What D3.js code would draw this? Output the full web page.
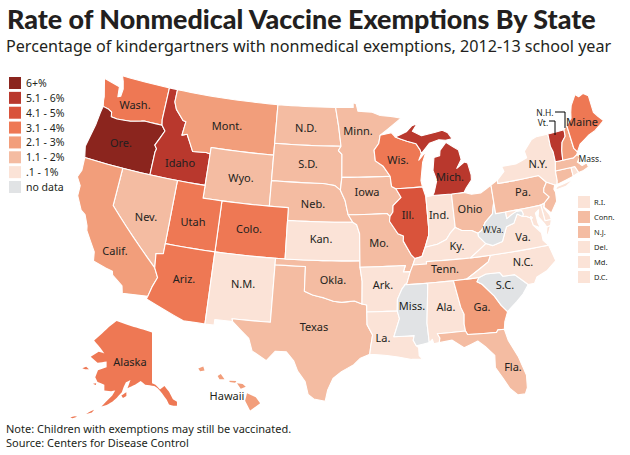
<!DOCTYPE html>
<html>
<head>
<meta charset="utf-8">
<script src="https://cdn.jsdelivr.net/npm/d3@7"></script>
<style>
html, body { margin: 0; padding: 0; background: #fff; }
svg { display: block; }
text { font-family: "Noto Sans", sans-serif; fill: #231f20; }
</style>
</head>
<body>
<svg id="chart" width="630" height="455"></svg>
<script>
'use strict';

const TITLE = "Rate of Nonmedical Vaccine Exemptions By State";
const SUBTITLE = "Percentage of kindergartners with nonmedical exemptions, 2012-13 school year";
const NOTES = ["Note: Children with exemptions may still be vaccinated.", "Source: Centers for Disease Control"];

const classLabels = ["6+%", "5.1 - 6%", "4.1 - 5%", "3.1 - 4%", "2.1 - 3%", "1.1 - 2%", ".1 - 1%", "no data"];
const classColors = ["#8b251e", "#b9382d", "#d9533b", "#ee7854", "#f29e7b", "#f4bca2", "#fbe3d7", "#e1e3e5"];
const classBreaks = [1, 2, 3, 4, 5, 6];

// state outlines, [lon, lat]
const WA = [[[-124.7,48.4],[-123.1,48.15],[-122.75,48.1],[-122.6,47.3],[-122.3,47.4],[-122.25,48.0],[-122.5,48.6],[-122.76,49],[-120,49],[-117.03,49],[-117.04,46.42],[-116.92,45.99],[-118.98,46],[-119.3,45.93],[-120.5,45.7],[-121.2,45.65],[-122,45.6],[-122.7,45.65],[-122.8,46],[-123.2,46.15],[-123.9,46.25],[-124.05,46.7],[-124.1,47],[-124.4,47.7]]];
const OR = [[[-123.9,46.25],[-123.2,46.15],[-122.8,46],[-122.7,45.65],[-122,45.6],[-121.2,45.65],[-120.5,45.7],[-119.3,45.93],[-118.98,46],[-116.92,45.99],[-116.46,45.6],[-116.85,44.95],[-117.22,44.35],[-116.95,44.1],[-117.03,43.83],[-117.03,42],[-120,42],[-124.2,42],[-124.5,42.85],[-124.1,44.7],[-124.0,45.7]]];
const ID = [[[-117.03,49],[-116.05,49],[-116.05,48],[-115.7,47.45],[-114.7,46.7],[-114.35,46.65],[-114.5,45.55],[-113.95,45.7],[-113.45,45.05],[-113,44.45],[-111.5,44.55],[-111.05,44.48],[-111.05,42],[-114.04,42],[-117.03,42],[-117.03,43.83],[-116.95,44.1],[-117.22,44.35],[-116.85,44.95],[-116.46,45.6],[-116.92,45.99],[-117.04,46.42]]];
const MT = [[[-116.05,49],[-112,49],[-108,49],[-104.05,49],[-104.05,45.94],[-104.05,45],[-111.05,45],[-111.05,44.48],[-111.5,44.55],[-113,44.45],[-113.45,45.05],[-113.95,45.7],[-114.5,45.55],[-114.35,46.65],[-114.7,46.7],[-115.7,47.45],[-116.05,48]]];
const WY = [[[-111.05,45],[-104.05,45],[-104.05,43],[-104.05,41],[-111.05,41],[-111.05,42]]];
const ND = [[[-104.05,49],[-100,49],[-97.23,49],[-96.85,47.5],[-96.56,45.94],[-104.05,45.94]]];
const SD = [[[-104.05,45.94],[-96.56,45.94],[-96.85,45.6],[-96.45,45.3],[-96.45,43.5],[-96.6,42.5],[-97.2,42.85],[-98.5,43],[-104.05,43],[-104.05,45]]];
const NE = [[[-104.05,43],[-98.5,43],[-97.2,42.85],[-96.6,42.5],[-96.1,41.7],[-95.9,41],[-95.77,40.58],[-95.3,40],[-102.05,40],[-102.05,41],[-104.05,41]]];
const CO = [[[-109.05,41],[-104.05,41],[-102.05,41],[-102.05,40],[-102.05,37],[-103,37],[-109.05,37]]];
const UT = [[[-114.04,42],[-111.05,42],[-111.05,41],[-109.05,41],[-109.05,37],[-114.04,37],[-114.04,36.2]]];
const NV = [[[-120,42],[-117.03,42],[-114.04,42],[-114.04,37],[-114.04,36.2],[-114.75,36.1],[-114.6,35],[-120,39]]];
const CA = [[[-124.2,42],[-120,42],[-120,39],[-114.6,35],[-114.15,34.3],[-114.5,33.5],[-114.72,32.72],[-117.12,32.53],[-117.3,33.1],[-118.4,33.75],[-118.5,34.03],[-119.2,34.15],[-120.5,34.45],[-120.65,35.15],[-121.9,36.6],[-122,36.95],[-122.5,37.75],[-123,38],[-123.75,39],[-123.8,39.8],[-124.35,40.4],[-124.1,41]]];
const AZ = [[[-114.04,37],[-109.05,37],[-109.05,31.33],[-111.07,31.33],[-114.8,32.5],[-114.72,32.72],[-114.5,33.5],[-114.15,34.3],[-114.6,35],[-114.75,36.1],[-114.04,36.2]]];
const NM = [[[-109.05,37],[-103,37],[-103,36.5],[-103.04,32],[-106.62,32],[-106.53,31.78],[-108.2,31.78],[-108.2,31.33],[-109.05,31.33]]];
const TX = [[[-103,36.5],[-100,36.5],[-100,34.56],[-99.2,34.3],[-98.1,34.1],[-97.2,33.85],[-96.4,33.77],[-95.2,33.88],[-94.48,33.64],[-94.04,33.55],[-94.04,33],[-94.04,32],[-93.55,31.2],[-93.75,30.3],[-93.85,29.7],[-94.7,29.4],[-95.3,28.9],[-96.4,28.35],[-97.15,27.8],[-97.6,26.9],[-97.8,26],[-98.8,26.15],[-99.3,26.5],[-99.6,27.5],[-100.3,28.3],[-100.7,29.1],[-101.4,29.77],[-102.4,29.77],[-103.15,28.98],[-104.5,29.65],[-104.9,30.6],[-106.53,31.78],[-106.62,32],[-103.04,32]]];
const OK = [[[-103,37],[-102.05,37],[-94.62,37],[-94.62,36.5],[-94.43,35.4],[-94.48,33.64],[-95.2,33.88],[-96.4,33.77],[-97.2,33.85],[-98.1,34.1],[-99.2,34.3],[-100,34.56],[-100,36.5],[-103,36.5]]];
const KS = [[[-102.05,40],[-95.3,40],[-94.9,39.8],[-94.61,39.1],[-94.62,37],[-102.05,37]]];
const MN = [[[-97.23,49],[-95.15,49],[-95.15,49.38],[-94.8,49.3],[-94.6,48.7],[-93,48.6],[-92,48.3],[-90.8,48.2],[-89.6,48],[-92.1,46.75],[-92.3,46.1],[-92.85,45.6],[-92.75,44.75],[-91.9,44.3],[-91.2,43.5],[-96.45,43.5],[-96.45,45.3],[-96.85,45.6],[-96.56,45.94],[-96.85,47.5]]];
const IA = [[[-96.45,43.5],[-91.2,43.5],[-91.1,42.7],[-90.65,42.5],[-90.15,41.8],[-91.05,41.2],[-91.1,40.7],[-91.42,40.38],[-91.73,40.61],[-95.77,40.58],[-95.9,41],[-96.1,41.7],[-96.6,42.5]]];
const MO = [[[-95.77,40.58],[-91.73,40.61],[-91.42,40.38],[-91.5,40],[-90.7,39],[-90.15,38.8],[-90.2,38.4],[-89.5,37.3],[-89.15,36.98],[-89.4,36.5],[-89.7,36],[-90.38,36],[-90.15,36.5],[-94.62,36.5],[-94.62,37],[-94.61,39.1],[-94.9,39.8],[-95.3,40]]];
const AR = [[[-94.62,36.5],[-90.15,36.5],[-90.38,36],[-89.7,36],[-90.1,35.1],[-90.3,35],[-90.6,34.7],[-91.1,33.9],[-91.17,33],[-94.04,33],[-94.04,33.55],[-94.48,33.64],[-94.43,35.4]]];
const LA = [[[-94.04,33],[-91.17,33],[-91,32.4],[-91.6,31],[-89.73,31],[-89.85,30.65],[-89.6,30.2],[-89.4,30.05],[-89.4,29.4],[-89.1,29.1],[-90.1,29.15],[-91.3,29.4],[-92.3,29.55],[-93.85,29.7],[-93.75,30.3],[-93.55,31.2],[-94.04,32]]];
const WI = [[[-92.1,46.75],[-90.8,46.9],[-90.4,46.55],[-89.1,46.15],[-88.1,45.9],[-87.7,45.4],[-87.6,45.1],[-87.95,44.6],[-87.05,45.25],[-87.55,44.4],[-87.9,43],[-87.8,42.5],[-90.65,42.5],[-91.1,42.7],[-91.2,43.5],[-91.9,44.3],[-92.75,44.75],[-92.85,45.6],[-92.3,46.1]]];
const IL = [[[-90.65,42.5],[-87.8,42.5],[-87.53,41.7],[-87.53,39.35],[-87.6,38.7],[-88.05,37.8],[-88.45,37.1],[-89.15,36.98],[-89.5,37.3],[-90.2,38.4],[-90.15,38.8],[-90.7,39],[-91.5,40],[-91.42,40.38],[-91.1,40.7],[-91.05,41.2],[-90.15,41.8]]];
const IN = [[[-87.53,41.7],[-86.8,41.76],[-84.8,41.72],[-84.82,39.1],[-85.4,38.7],[-85.85,38.25],[-86.8,37.95],[-88.05,37.8],[-87.6,38.7],[-87.53,39.35]]];
const OH = [[[-84.8,41.72],[-83.45,41.72],[-82.7,41.5],[-81.7,41.5],[-80.52,41.97],[-80.52,40.64],[-80.85,39.75],[-81.7,39.2],[-82.2,38.6],[-82.6,38.42],[-83.2,38.7],[-84.2,38.8],[-84.82,39.1]]];
const KY = [[[-89.4,36.5],[-88.05,36.5],[-88.05,36.68],[-83.68,36.6],[-81.97,37.54],[-82.6,38.17],[-82.6,38.42],[-83.2,38.7],[-84.2,38.8],[-84.82,39.1],[-85.4,38.7],[-85.85,38.25],[-86.8,37.95],[-88.05,37.8],[-88.45,37.1],[-89.15,36.98]]];
const TN = [[[-89.7,36],[-89.4,36.5],[-88.05,36.5],[-88.05,36.68],[-83.68,36.6],[-81.68,36.59],[-82,36.1],[-84.32,35],[-85.6,35],[-88.2,35],[-90.3,35],[-90.1,35.1]]];
const MS = [[[-90.3,35],[-88.2,35],[-88.1,34.9],[-88.47,31.9],[-88.4,30.37],[-89.6,30.2],[-89.85,30.65],[-89.73,31],[-91.6,31],[-91,32.4],[-91.17,33],[-91.1,33.9],[-90.6,34.7]]];
const AL = [[[-88.2,35],[-85.6,35],[-85.18,32.87],[-84.95,32.3],[-85.05,31.55],[-85,31],[-87.6,31],[-87.4,30.65],[-87.5,30.3],[-88,30.25],[-88.1,30.6],[-88.4,30.37],[-88.47,31.9],[-88.1,34.9]]];
const GA = [[[-85.6,35],[-84.32,35],[-83.1,35],[-83.35,34.7],[-82.9,34.45],[-81.9,33.4],[-81.4,32.6],[-80.9,32.05],[-81.3,31.3],[-81.45,30.72],[-82.05,30.75],[-82.2,30.57],[-84.85,30.7],[-85,31],[-85.05,31.55],[-84.95,32.3],[-85.18,32.87]]];
const FL = [[[-87.6,31],[-85,31],[-84.85,30.7],[-82.2,30.57],[-82.05,30.75],[-81.45,30.72],[-81.25,29.8],[-80.6,28.45],[-80.15,26.9],[-80.25,25.9],[-80.5,25.45],[-81.15,25.45],[-81.75,26.05],[-82.2,26.9],[-82.75,27.85],[-82.65,28.8],[-83.4,29.6],[-84,30.1],[-85.3,29.7],[-86.3,30.4],[-87.5,30.3],[-87.4,30.65]]];
const SC = [[[-83.1,35],[-82.4,35.2],[-81.05,35.15],[-80.8,34.82],[-79.67,34.8],[-78.55,33.86],[-79.2,33.2],[-79.9,32.7],[-80.9,32.05],[-81.4,32.6],[-81.9,33.4],[-82.9,34.45],[-83.35,34.7]]];
const NC = [[[-84.32,35],[-82,36.1],[-81.68,36.59],[-75.87,36.55],[-75.5,35.25],[-76.5,34.65],[-77.6,34.3],[-77.95,33.85],[-78.55,33.86],[-79.67,34.8],[-80.8,34.82],[-81.05,35.15],[-82.4,35.2],[-83.1,35]]];
const VA = [[[-83.68,36.6],[-81.68,36.59],[-75.87,36.55],[-76.3,37],[-76.3,37.6],[-76.95,38.3],[-77.04,38.79],[-77.12,38.93],[-77.5,39.1],[-77.83,39.13],[-78.35,39.4],[-78.85,38.75],[-79.65,38.58],[-80.3,37.5],[-81.3,37.3],[-81.97,37.54]],[[-75.95,37.15],[-75.65,37.95],[-75.25,38.03],[-75.6,37.5]]];
const WV = [[[-82.6,38.42],[-82.2,38.6],[-81.7,39.2],[-80.85,39.75],[-80.52,40.64],[-80.52,39.72],[-79.48,39.72],[-79.48,39.2],[-78.9,39.45],[-78.35,39.63],[-77.83,39.6],[-77.72,39.32],[-77.83,39.13],[-78.35,39.4],[-78.85,38.75],[-79.65,38.58],[-80.3,37.5],[-81.3,37.3],[-81.97,37.54],[-82.6,38.17]]];
const PA = [[[-80.52,41.97],[-79.76,42.27],[-79.76,42],[-75.35,42],[-74.7,41.36],[-75.1,40.95],[-75.2,40.65],[-74.75,40.2],[-75.4,39.8],[-75.79,39.72],[-79.48,39.72],[-80.52,39.72],[-80.52,40.64]]];
const NY = [[[-79.76,42.27],[-78.9,42.85],[-79.05,43.27],[-77.5,43.25],[-76.2,43.55],[-76.3,44.1],[-75.3,44.85],[-74.7,45],[-73.35,45],[-73.4,44],[-73.25,43.55],[-73.27,42.75],[-73.5,42.05],[-73.55,41.3],[-73.66,41],[-73.92,41],[-74.7,41.36],[-75.35,42],[-79.76,42]],[[-74,40.6],[-73.7,40.85],[-72.6,40.98],[-71.9,41.07],[-72.8,40.7]]];
const NJ = [[[-74.7,41.36],[-73.92,41],[-74.1,40.7],[-74,40.45],[-74.1,39.75],[-74.9,38.95],[-75.5,39.5],[-75.4,39.8],[-74.75,40.2],[-75.2,40.65],[-75.1,40.95]]];
const DE = [[[-75.79,39.72],[-75.4,39.8],[-75.55,39.5],[-75.1,38.8],[-75.05,38.45],[-75.7,38.46]]];
const MD = [[[-79.48,39.72],[-75.79,39.72],[-75.7,38.46],[-75.05,38.45],[-75.25,38.03],[-75.65,37.95],[-75.85,38.3],[-76.3,38.9],[-76.1,39.4],[-76.5,39.2],[-76.45,38.4],[-76.3,38],[-76.95,38.3],[-77.04,38.79],[-76.91,38.89],[-77.04,39],[-77.12,38.93],[-77.5,39.1],[-77.83,39.13],[-77.72,39.32],[-77.83,39.6],[-78.35,39.63],[-78.9,39.45],[-79.48,39.2]]];
const DC = [[[-77.12,38.93],[-77.04,39],[-76.91,38.89],[-77.04,38.79]]];
const CT = [[[-73.5,42.05],[-71.8,42.02],[-71.8,41.32],[-73.66,41],[-73.55,41.3]]];
const RI = [[[-71.8,42.02],[-71.38,42.02],[-71.15,41.5],[-71.8,41.32]]];
const MA = [[[-73.27,42.75],[-72.46,42.73],[-71.3,42.7],[-70.85,42.88],[-70.6,42.65],[-71,42.3],[-70.6,41.95],[-70.05,42.05],[-70,41.7],[-70.6,41.55],[-71.15,41.5],[-71.38,42.02],[-71.8,42.02],[-73.5,42.05]]];
const VT = [[[-73.35,45],[-71.5,45.01],[-71.55,44.5],[-72.05,44.1],[-72.3,43.5],[-72.46,42.73],[-73.27,42.75],[-73.25,43.55],[-73.4,44]]];
const NH = [[[-71.5,45.01],[-71.08,45.3],[-70.98,43.4],[-70.7,43.07],[-70.85,42.88],[-71.3,42.7],[-72.46,42.73],[-72.3,43.5],[-72.05,44.1],[-71.55,44.5]]];
const ME = [[[-71.08,45.3],[-70.4,45.75],[-70.25,46.2],[-70,46.7],[-69.23,47.46],[-68.9,47.2],[-68.3,47.36],[-67.8,47.07],[-67.8,45.7],[-67.45,45.3],[-67,44.85],[-68.2,44.3],[-69,44.1],[-70.2,43.6],[-70.7,43.07],[-70.98,43.4]]];
const MI = [[[-86.8,41.76],[-84.8,41.72],[-83.45,41.72],[-83.15,42.05],[-82.5,42.6],[-82.45,43],[-82.65,43.95],[-83,44.07],[-83.9,43.65],[-83.3,44.3],[-83.45,45.05],[-84.75,45.78],[-85.5,45.2],[-85.6,44.8],[-86.25,44.7],[-86.5,43.7],[-86.2,42.9],[-86.6,42]],[[-90.4,46.55],[-89.1,46.9],[-88.4,47.35],[-87.8,47.47],[-88.4,46.9],[-87.4,46.5],[-85,46.75],[-84.4,46.5],[-84,46],[-84.75,45.95],[-85.5,46.05],[-86.6,45.85],[-87.6,45.1],[-87.7,45.4],[-88.1,45.9],[-89.1,46.15]]];
const AK = [[[-141,69.65],[-141,60.3],[-139.5,60],[-137.5,58.9],[-135.5,59.7],[-133.5,58.4],[-131.8,56.6],[-130,56],[-130,55],[-131.5,55],[-133.5,55.3],[-134.5,56.5],[-136.5,58],[-138.5,59.2],[-140,59.7],[-144,60],[-146,60.8],[-148.5,60],[-151.8,59.2],[-150.5,61],[-152.5,60.5],[-153.5,59.5],[-154.3,58.3],[-156.5,57],[-158.5,56],[-161,55.2],[-163.3,54.8],[-161.5,55.9],[-158.5,57.5],[-157.2,58.7],[-159,58.5],[-162,58.7],[-162,60],[-165,60.6],[-166,61.6],[-164.8,63],[-161,63.6],[-161,64.7],[-165,64.5],[-168,65.6],[-164.5,66.5],[-162,66.2],[-163.8,67.2],[-166.5,68.4],[-163,69.5],[-160,70.5],[-156.6,71.35],[-152,70.8],[-148,70.4],[-144,70]],[[-154.5,57.5],[-152.3,58.3],[-152.3,57.4],[-153.8,56.9]],[[-171.7,63.4],[-170,63.7],[-168.8,63.2],[-170.5,63.2]],[[-167,60.2],[-165.6,60.3],[-165.7,59.9]],[[-170,52.9],[-168,53.6],[-166.5,54],[-167.5,53.3]],[[-177,51.9],[-175,52.3],[-174,52.1],[-176,51.7]]];
const HI = [[[-159.8,22.1],[-159.4,22.25],[-159.3,21.95],[-159.65,21.9]],[[-158.25,21.55],[-158,21.7],[-157.7,21.3],[-158.1,21.3]],[[-157.3,21.2],[-156.75,21.17],[-156.85,21.05],[-157.3,21.1]],[[-156.7,21],[-156.25,20.95],[-156,20.75],[-156.4,20.6]],[[-155.9,20.25],[-155.2,19.95],[-154.85,19.5],[-155.65,18.95],[-156.05,19.7]]];

const stateNames = ["Wash.","Ore.","Idaho","Mont.","Wyo.","N.D.","S.D.","Neb.","Colo.","Utah","Nev.","Calif.","Ariz.","N.M.","Texas","Okla.","Kan.","Minn.","Iowa","Mo.","Ark.","La.","Wis.","Ill.","Ind.","Ohio","Ky.","Tenn.","Miss.","Ala.","Ga.","Fla.","S.C.","N.C.","Va.","W.Va.","Pa.","N.Y.","N.J.","Del.","Md.","D.C.","Conn.","R.I.","Mass.","Vt.","N.H.","Maine","Mich.","Alaska","Hawaii"];
const stateShapes = [WA,OR,ID,MT,WY,ND,SD,NE,CO,UT,NV,CA,AZ,NM,TX,OK,KS,MN,IA,MO,AR,LA,WI,IL,IN,OH,KY,TN,MS,AL,GA,FL,SC,NC,VA,WV,PA,NY,NJ,DE,MD,DC,CT,RI,MA,VT,NH,ME,MI,AK,HI];
// nonmedical exemption rate, estimated from the colour band; null = no data
const stateRates = [3.8,6.4,5.7,2.8,1.9,1.8,1.7,1.5,3.5,3.4,1.7,2.8,3.3,0.7,1.4,1.5,0.9,1.6,1.6,1.7,0.8,0.6,3.6,4.6,0.8,1.6,0.6,1.4,null,0.7,2.5,1.5,null,0.9,0.8,null,1.7,0.5,1.4,0.6,0.5,0.8,1.5,0.9,1.2,5.2,2.7,3.8,5.5,3.6,2.6];

const labelNames = ["Wash.","Ore.","Calif.","Nev.","Idaho","Mont.","Wyo.","Utah","Colo.","Ariz.","N.M.","N.D.","S.D.","Neb.","Kan.","Okla.","Texas","Minn.","Iowa","Mo.","Ark.","La.","Wis.","Ill.","Ind.","Mich.","Ohio","Ky.","Tenn.","Miss.","Ala.","Ga.","S.C.","N.C.","Va.","W.Va.","Pa.","N.Y.","Maine","Mass.","N.H.","Vt.","Fla.","Alaska","Hawaii"];
const labelX = [135,121,115,146,180,227,241,193,249,184,243,306,308,313,321,333,314,358,367,379,383,383,398,408,439,450,470,457,445,412,446,482,505,523,523,493,523,538,582,590,545,543,513,130,227];
const labelY = [105,143,251,217,163,126,178,222,229,279,284,128,164,204,239,280,327,131,192,243,285,338,160,215,215,177,209,246,269,306,307,307,285,262,237,229,192,164,122,158,112,122,367,362,396];

const smallNames = ["R.I.","Conn.","N.J.","Del.","Md.","D.C."];

const colorScale = d3.scaleThreshold().domain(classBreaks).range(classColors.slice(0, 7).reverse());
const rateColor = rate => rate === null ? classColors[7] : colorScale(rate);

const lower48 = d3.geoAlbers().parallels([29.5, 45.5]).rotate([96, 0]).center([0, 38]).scale(730).translate([346, 248]);
const alaskaProj = d3.geoMercator().center([-141, 65]).scale(130).translate([152, 360]);
const hawaiiProj = d3.geoMercator().center([-155.5, 19.6]).scale(716).translate([252, 402]);

function densify(ring) {
	const out = [];
	ring.forEach((p, i) => {
		const q = ring[(i + 1) % ring.length];
		const steps = Math.max(1, Math.ceil(Math.abs(q[0] - p[0])));
		for (let k = 0; k < steps; k++) {
			out.push([p[0] + (q[0] - p[0]) * k / steps, p[1] + (q[1] - p[1]) * k / steps]);
		}
	});
	out.push(out[0]);
	return out;
}

function toFeature(shape) {
	const polys = shape.map(ring => {
		let r = densify(ring);
		if (d3.geoArea({type: "Polygon", coordinates: [r]}) > 2 * Math.PI) r = r.reverse();
		return [r];
	});
	return {type: "MultiPolygon", coordinates: polys};
}

// squeeze a line of text horizontally so it spans the given width
function fitText(sel, x, y, width) {
	const k = width / sel.node().getComputedTextLength();
	sel.attr("transform", `translate(${x},${y}) scale(${k},1)`);
}

const svg = d3.select("#chart");

fitText(svg.append("text")
	.style("font-family", "Lato").style("font-weight", 900).style("font-size", "27px")
	.text(TITLE), 7, 29, 589);
fitText(svg.append("text")
	.style("font-size", "16.4px")
	.text(SUBTITLE), 6, 52, 605);

const gStates = svg.append("g").attr("stroke", "#fff").attr("stroke-linejoin", "round");
stateNames.forEach((name, i) => {
	const proj = name === "Alaska" ? alaskaProj : name === "Hawaii" ? hawaiiProj : lower48;
	gStates.append("path")
		.attr("d", d3.geoPath(proj)(toFeature(stateShapes[i])))
		.attr("fill", rateColor(stateRates[i]))
		.attr("stroke-width", (name === "Alaska" || name === "Hawaii") ? 0 : 1.1);
});

// legend
const legendY = d3.scalePoint().domain(classLabels).range([77, 181]);
classLabels.forEach((label, i) => {
	svg.append("rect").attr("x", 9).attr("y", legendY(label)).attr("width", 12).attr("height", 12).attr("fill", classColors[i]);
	svg.append("text").attr("x", 26).attr("y", legendY(label) + 10).style("font-size", "10.5px").text(label);
});

const smallY = d3.scalePoint().domain(smallNames).range([196, 271]);
smallNames.forEach(name => {
	const i = stateNames.indexOf(name);
	svg.append("rect").attr("x", 578).attr("y", smallY(name)).attr("width", 12).attr("height", 12).attr("fill", rateColor(stateRates[i]));
	svg.append("text").attr("x", 594).attr("y", smallY(name) + 9).style("font-size", "7.5px").text(name);
});

// labels
labelNames.forEach((name, i) => {
	svg.append("text").attr("x", labelX[i]).attr("y", labelY[i] + 4)
		.attr("text-anchor", "middle").style("font-size", name === "W.Va." ? "8.5px" : name === "N.H." || name === "Vt." || name === "Mass." ? "8.5px" : "11px")
		.text(name);
});

// leader lines for N.H. and Vt.
const leader = d3.line();
svg.append("path").attr("d", leader([[555, 112], [565, 112], [565, 128]])).attr("fill", "none").attr("stroke", "#000");
svg.append("path").attr("d", leader([[549, 121], [555, 121], [555, 135]])).attr("fill", "none").attr("stroke", "#000");

NOTES.forEach((line, i) => {
	svg.append("text").attr("x", 6).attr("y", 433 + i * 14).style("font-size", "11px").text(line);
});
</script>
</body>
</html>
